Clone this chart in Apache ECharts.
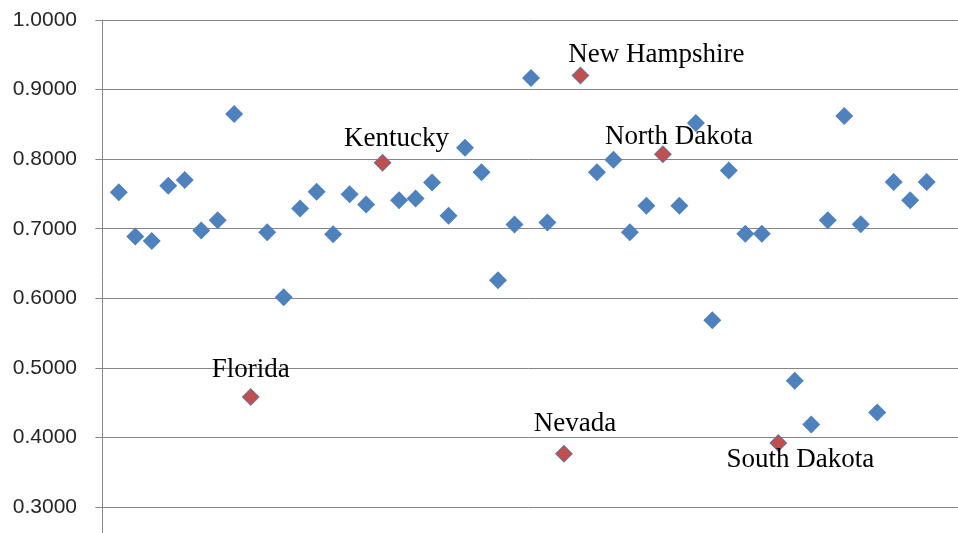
<!DOCTYPE html>
<html>
<head>
<meta charset="utf-8">
<title>scatter</title>
<script src="https://cdn.jsdelivr.net/npm/echarts@6/dist/echarts.min.js"></script>
<style>
  html, body { margin: 0; padding: 0; background: #fff; }
  #main { width: 958px; height: 533px; }
</style>
</head>
<body>
<div id="main"></div>
<script>
  // states in alphabetical order, one point each
  const states = [
    'Alabama', 'Alaska', 'Arizona', 'Arkansas', 'California', 'Colorado', 'Connecticut',
    'Delaware', 'Florida', 'Georgia', 'Hawaii', 'Idaho', 'Illinois', 'Indiana', 'Iowa',
    'Kansas', 'Kentucky', 'Louisiana', 'Maine', 'Maryland', 'Massachusetts', 'Michigan',
    'Minnesota', 'Mississippi', 'Missouri', 'Montana', 'Nebraska', 'Nevada', 'New Hampshire',
    'New Jersey', 'New Mexico', 'New York', 'North Carolina', 'North Dakota', 'Ohio',
    'Oklahoma', 'Oregon', 'Pennsylvania', 'Rhode Island', 'South Carolina', 'South Dakota',
    'Tennessee', 'Texas', 'Utah', 'Vermont', 'Virginia', 'Washington', 'West Virginia',
    'Wisconsin', 'Wyoming'
  ]
  const values = [
    0.7526, 0.6888, 0.6825, 0.7617, 0.7699, 0.6974, 0.7123, 0.8650, 0.4583, 0.6950,
    0.6014, 0.7291, 0.7531, 0.6921, 0.7497, 0.7349, 0.7949, 0.7411, 0.7435, 0.7665,
    0.7185, 0.8165, 0.7810, 0.6259, 0.7060, 0.9168, 0.7089, 0.3767, 0.9202, 0.7810,
    0.7990, 0.6950, 0.7330, 0.8069, 0.7330, 0.8520, 0.5683, 0.7838, 0.6926, 0.6926,
    0.3921, 0.4814, 0.4185, 0.7123, 0.8621, 0.7065, 0.4358, 0.7670, 0.7411, 0.7670
  ]
  const highlighted = ['Florida', 'Kentucky', 'Nevada', 'New Hampshire', 'North Dakota', 'South Dakota']
  const yTicks = [0.2, 0.3, 0.4, 0.5, 0.6, 0.7, 0.8, 0.9, 1.0]

  // where each state name sits relative to its point
  const labelOffsets = {
    'Florida': [0, -27],
    'Kentucky': [14, -24],
    'Nevada': [11, -30],
    'New Hampshire': [76, -21],
    'North Dakota': [16, -17],
    'South Dakota': [22, 17]
  }

  const allPoints = values.map((v, i) => [i + 1, v])
  const redPoints = highlighted.map((name) => {
    let i = states.indexOf(name)
    return {
      name: name,
      value: [i + 1, values[i]],
      label: { offset: labelOffsets[name] }
    }
  })

  const chart = echarts.init(document.getElementById('main'))
  chart.setOption({
    animation: false,
    grid: { left: 99, top: 20, width: 859, height: 556.6, outerBoundsMode: 'none' },
    xAxis: {
      type: 'value',
      min: -0.2,
      max: 51.9,
      show: false
    },
    yAxis: {
      type: 'value',
      min: yTicks[0],
      max: yTicks[yTicks.length - 1],
      interval: 0.1,
      axisLine: { show: true, lineStyle: { color: '#868686', width: 1 } },
      axisTick: { show: true, length: 7, lineStyle: { color: '#868686' } },
      splitLine: { lineStyle: { color: '#868686', width: 1 } },
      axisLabel: {
        margin: 22,
        color: '#262626',
        fontFamily: 'Liberation Sans',
        fontSize: 21,
        formatter: (v) => v.toFixed(4)
      }
    },
    series: [{
      name: 'all',
      type: 'scatter',
      symbol: 'diamond',
      symbolSize: 18,
      itemStyle: { color: '#4F81BD', opacity: 1 },
      data: allPoints
    }, {
      name: 'highlighted',
      type: 'scatter',
      symbol: 'diamond',
      symbolSize: 16,
      itemStyle: { color: '#C0504D', opacity: 1 },
      label: {
        show: true,
        position: 'inside',
        formatter: (p) => p.name,
        color: '#000',
        fontFamily: 'Liberation Serif',
        fontSize: 27
      },
      data: redPoints
    }]
  })
</script>
</body>
</html>
